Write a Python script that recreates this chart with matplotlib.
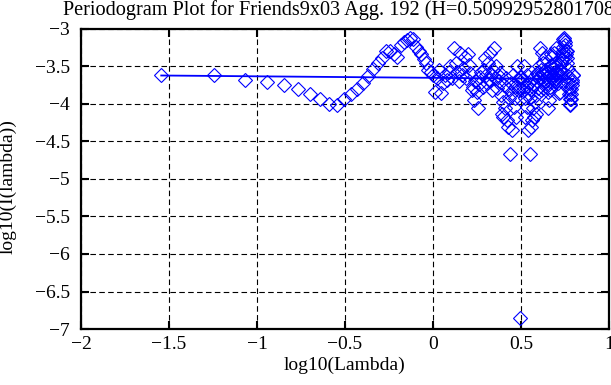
import matplotlib
matplotlib.use('Agg')
import matplotlib.pyplot as plt
import numpy as np

plt.rcParams['font.family'] = ['Liberation Serif', 'DejaVu Serif']

# ---- data ----
n_obs = 220                       # series length (Nyquist point at k = 110)
freq_index = list(range(1, 220))  # k = 1 .. 219

# log10(I(lambda)) for k = 1..109
log_I_low = [
    -3.62, -3.62, -3.68, -3.71, -3.75, -3.80, -3.87, -3.93, -4.00, -4.01,
    -3.94, -3.87, -3.80, -3.72, -3.63, -3.54, -3.46, -3.39, -3.29, -3.30,
    -3.34, -3.37, -3.22, -3.18, -3.15, -3.12, -3.13, -3.24, -3.30, -3.34,
    -3.40, -3.45, -3.55, -3.58, -3.61, -3.84, -3.66, -3.55, -3.86, -3.72,
    -3.62, -3.68, -3.58, -3.50, -3.65, -3.25, -3.45, -3.57, -3.70, -3.32,
    -3.62, -3.52, -3.37, -3.66, -3.34, -3.48, -3.59, -3.81, -3.77, -3.95,
    -3.70, -3.84, -4.05, -3.74, -3.64, -3.58, -3.77, -3.55, -3.39, -3.62,
    -3.72, -3.46, -3.68, -3.32, -3.60, -3.82, -3.55, -3.25, -3.66, -3.50,
    -3.79, -3.62, -3.70, -3.59, -3.88, -4.13, -3.97, -4.17, -3.75, -4.06,
    -3.66, -4.22, -4.31, -3.80, -3.92, -4.67, -3.72, -4.35, -3.85, -3.62,
    -4.04, -3.78, -3.92, -4.17, -3.50, -3.77, -3.81, -3.68, -3.64,
]
# k = 110 (lambda = pi)
log_I_nyquist = [-6.85]
# k = 111..219
log_I_high = [
    -3.64, -3.68, -3.81, -3.77, -3.50, -4.17, -3.92, -3.78, -4.04,
    -3.62, -3.85, -4.35, -3.72, -4.67, -3.92, -3.80, -4.31, -4.22, -3.66,
    -4.06, -3.75, -4.17, -3.97, -4.13, -3.88, -3.59, -3.70, -3.62, -3.79,
    -3.50, -3.66, -3.25, -3.55, -3.82, -3.60, -3.32, -3.68, -3.46, -3.72,
    -3.62, -3.39, -3.55, -3.77, -3.58, -3.64, -3.74, -4.05, -3.84, -3.70,
    -3.95, -3.77, -3.81, -3.59, -3.48, -3.34, -3.66, -3.37, -3.52, -3.62,
    -3.32, -3.70, -3.57, -3.45, -3.25, -3.65, -3.50, -3.58, -3.68, -3.62,
    -3.72, -3.86, -3.55, -3.66, -3.84, -3.61, -3.58, -3.55, -3.45, -3.40,
    -3.34, -3.30, -3.24, -3.13, -3.12, -3.15, -3.18, -3.22, -3.37, -3.34,
    -3.30, -3.29, -3.39, -3.46, -3.54, -3.63, -3.72, -3.80, -3.87, -3.94,
    -4.01, -4.00, -3.93, -3.87, -3.80, -3.75, -3.71, -3.68, -3.62, -3.62,
]

# least-squares fit line (slope = 1 - 2H)
fit_x = [-1.544, 0.796]
fit_y = [-3.620, -3.667]

x_ticks = [-2, -1.5, -1, -0.5, 0, 0.5, 1]
x_tick_labels = ['\u22122', '\u22121.5', '\u22121', '\u22120.5', '0', '0.5', '1']
y_ticks = [-7, -6.5, -6, -5.5, -5, -4.5, -4, -3.5, -3]
y_tick_labels = ['\u22127', '\u22126.5', '\u22126', '\u22125.5', '\u22125',
                 '\u22124.5', '\u22124', '\u22123.5', '\u22123']

title = 'Periodogram Plot for Friends9x03 Agg. 192 (H=0.50992952801708)'

# ---- figure ----
log_lambda = np.log10(2 * np.pi * np.array(freq_index) / n_obs)
log_I = np.array(log_I_low + log_I_nyquist + log_I_high)

W, H = 611, 385
fig = plt.figure(figsize=(W / 100, H / 100), dpi=100)
ax = fig.add_axes([81 / W, 1 - 329 / H, 528 / W, 300 / H])

ax.plot(log_lambda, log_I, ls='none', marker='D', ms=6.8, mfc='none',
        mec='blue', mew=0.8, zorder=3)
ax.plot(fit_x, fit_y, color='blue', lw=1.3, zorder=4)

ax.set_xlim(-2, 1)
ax.set_ylim(-7, -3)
ax.set_xticks(x_ticks)
ax.set_xticklabels(x_tick_labels)
ax.set_yticks(y_ticks)
ax.set_yticklabels(y_tick_labels)

ax.grid(True, color='black', ls=(0, (5, 3)), lw=0.8, zorder=1)
ax.set_axisbelow(True)
ax.tick_params(direction='in', length=5.5, width=1.5, top=True, right=True,
               labelsize=14, colors='black')
ax.tick_params(axis='x', pad=5)
ax.tick_params(axis='y', pad=8)
for s in ax.spines.values():
    s.set_linewidth(1.6)

fig.text(342 / W, 1 - 15 / H, title, ha='center', va='baseline', fontsize=14.6)
fig.text(345 / W, 1 - 370 / H, 'log10(Lambda)', ha='center', va='baseline',
         fontsize=14)
fig.text(8 / W, 1 - 187 / H, 'log10(I(lambda))', ha='center', va='center',
         rotation=90, fontsize=14)

fig.savefig('out.png', dpi=100)
